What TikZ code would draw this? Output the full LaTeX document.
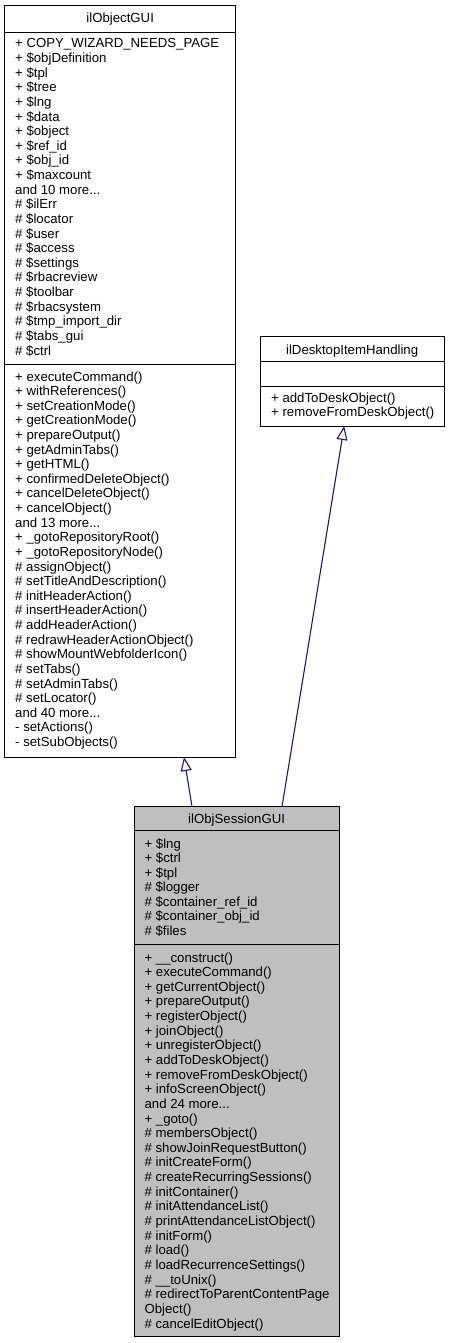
\documentclass[tikz,border=0pt]{standalone}
\usepackage{fontspec}
\setmainfont{Liberation Sans}
\usetikzlibrary{arrows.meta}
\definecolor{edgeblue}{HTML}{191970}
\definecolor{sessgray}{HTML}{BFBFBF}
\newcommand\mydots{...}
\begin{document}
\begin{tikzpicture}[x=1pt,y=-1pt,
  classbox/.style={draw=black, line width=1pt, inner sep=0pt, outer sep=0pt, rectangle},
  member/.style={anchor=base west, inner sep=0pt, font=\fontsize{13.2}{14.6}\selectfont},
  classtitle/.style={anchor=base, inner sep=0pt, font=\fontsize{13.2}{14.6}\selectfont},
  sepline/.style={draw=black, line width=1pt},
  inherit/.style={draw=edgeblue, line width=1.1pt, -{Triangle[open, length=14pt, width=11pt, line width=1.1pt]}}]
\useasboundingbox (0,0) rectangle (450,1343);

% ---------- ilObjectGUI ----------
\node[classbox, minimum width=231pt, minimum height=751.7pt] (objgui) at (120.2,381.15) {};
\draw[sepline] ([yshift=-27pt]objgui.north west) -- ([yshift=-27pt]objgui.north east);
\draw[sepline] ([yshift=-358.7pt]objgui.north west) -- ([yshift=-358.7pt]objgui.north east);
\node[classtitle] (objguit) at (120.2,22.5) {ilObjectGUI};
\foreach \t [count=\i from 0] in {+ COPY\_WIZARD\_NEEDS\_PAGE, + \$objDefinition, + \$tpl, + \$tree, + \$lng, + \$data, + \$object, + \$ref\_id, + \$obj\_id, + \$maxcount, and 10 more\mydots, \# \$ilErr, \# \$locator, \# \$user, \# \$access, \# \$settings, \# \$rbacreview, \# \$toolbar, \# \$rbacsystem, \# \$tmp\_import\_dir, \# \$tabs\_gui, \# \$ctrl}
  \node[member] (oa\i) at (15,{48+14.62*\i}) {\t};
\foreach \t [count=\i from 0] in {+ executeCommand(), + withReferences(), + setCreationMode(), + getCreationMode(), + prepareOutput(), + getAdminTabs(), + getHTML(), + confirmedDeleteObject(), + cancelDeleteObject(), + cancelObject(), and 13 more\mydots, + \_gotoRepositoryRoot(), + \_gotoRepositoryNode(), \# assignObject(), \# setTitleAndDescription(), \# initHeaderAction(), \# insertHeaderAction(), \# addHeaderAction(), \# redrawHeaderActionObject(), \# showMountWebfolderIcon(), \# setTabs(), \# setAdminTabs(), \# setLocator(), and 40 more\mydots, - setActions(), - setSubObjects()}
  \node[member] (om\i) at (15,{381+14.62*\i}) {\t};

% ---------- ilDesktopItemHandling ----------
\node[classbox, minimum width=184.3pt, minimum height=89.3pt] (desk) at (352.15,381.35) {};
\draw[sepline] ([yshift=-24.3pt]desk.north west) -- ([yshift=-24.3pt]desk.north east);
\draw[sepline] ([yshift=-49.3pt]desk.north west) -- ([yshift=-49.3pt]desk.north east);
\node[classtitle] (deskt) at (352.15,354) {ilDesktopItemHandling};
\node[member] (dm0) at (271,402.7) {+ addToDeskObject()};
\node[member] (dm1) at (271,416.9) {+ removeFromDeskObject()};

% ---------- ilObjSessionGUI ----------
\node[classbox, fill=sessgray, minimum width=205.3pt, minimum height=529.3pt] (sess) at (236.65,1071.35) {};
\draw[sepline] ([yshift=-24pt]sess.north west) -- ([yshift=-24pt]sess.north east);
\draw[sepline] ([yshift=-137.6pt]sess.north west) -- ([yshift=-137.6pt]sess.north east);
\node[classtitle] (sesst) at (236.65,823.5) {ilObjSessionGUI};
\foreach \t [count=\i from 0] in {+ \$lng, + \$ctrl, + \$tpl, \# \$logger, \# \$container\_ref\_id, \# \$container\_obj\_id, \# \$files}
  \node[member] (sa\i) at (144.4,{848+14.55*\i}) {\t};
\foreach \t [count=\i from 0] in {+ \_\_construct(), + executeCommand(), + getCurrentObject(), + prepareOutput(), + registerObject(), + joinObject(), + unregisterObject(), + addToDeskObject(), + removeFromDeskObject(), + infoScreenObject(), and 24 more\mydots, + \_goto(), \# membersObject(), \# showJoinRequestButton(), \# initCreateForm(), \# createRecurringSessions(), \# initContainer(), \# initAttendanceList(), \# printAttendanceListObject(), \# initForm(), \# load(), \# loadRecurrenceSettings(), \# \_\_toUnix(), \# redirectToParentContentPage, Object(), \# cancelEditObject()}
  \node[member] (sm\i) at (144.4,{962+14.64*\i}) {\t};

% ---------- inheritance ----------
\draw[inherit] ([xshift=58pt]sess.north west) -- ([xshift=179.3pt]objgui.south west);
\draw[inherit] ([xshift=148pt]sess.north west) -- ([xshift=84.2pt]desk.south west);
\end{tikzpicture}
\end{document}
